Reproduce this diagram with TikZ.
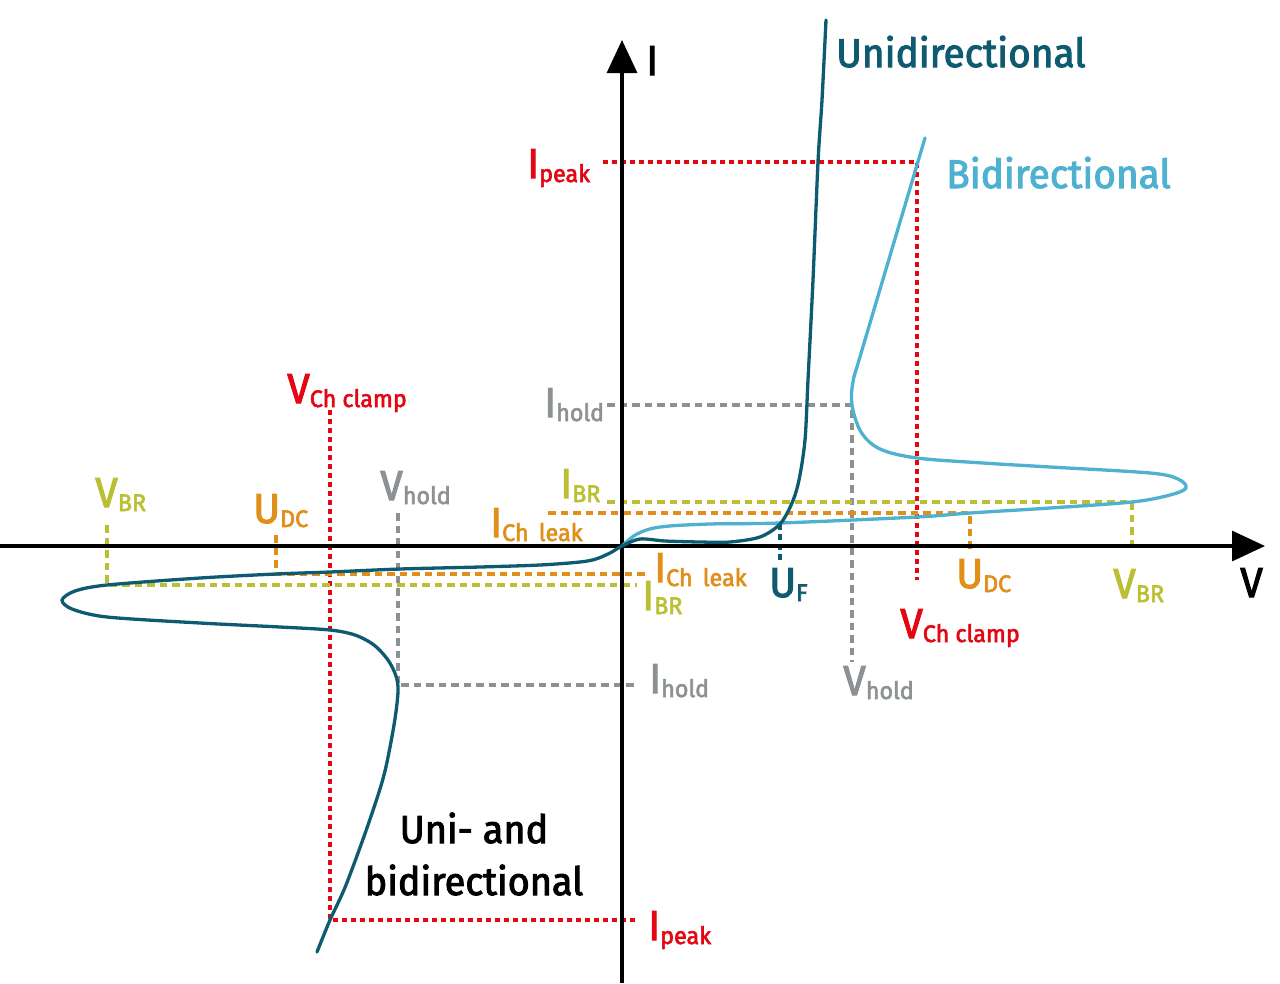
\documentclass[tikz,border=0pt]{standalone}
\usepackage{fontspec}
\setmainfont{Fira Sans}[FakeStretch=0.97,BoldFont={Fira Sans},BoldFeatures={FakeBold=2.5}]
\usetikzlibrary{arrows.meta}
\definecolor{uni}{HTML}{0E5A70}
\definecolor{bid}{HTML}{4EB1D0}
\definecolor{cred}{HTML}{E30613}
\definecolor{cgray}{HTML}{8C9194}
\definecolor{cyel}{HTML}{BBBF33}
\definecolor{corg}{HTML}{E0901A}
\newcommand\lbl[2]{#1\raisebox{-4pt}{\fontsize{24}{26}\selectfont #2}}
\begin{document}
\begin{tikzpicture}[x=1pt,y=-1pt,
  lab/.style={inner sep=0pt, anchor=base west, font=\fontsize{42}{46}\selectfont\bfseries},
  ttl/.style={inner sep=0pt, anchor=base west, font=\fontsize{40}{46}\selectfont\bfseries},
  dsh/.style={line width=3.2pt, dash pattern=on 7.5pt off 5pt},
  dotred/.style={line width=3.2pt, cred, dash pattern=on 5pt off 4pt},
  crv/.style={line width=3.3pt, line join=round, line cap=round},
  axis/.style={line width=3.2pt, -{Triangle[length=33pt,width=30pt]}}]
\useasboundingbox (0,0) rectangle (1280,983);
% ---------- coordinates ----------
\coordinate (ipkTL) at (603,162);
\coordinate (ipkTC) at (917,162);
\coordinate (ipkTB) at (917,580);
\coordinate (vclL) at (330,410);
\coordinate (vclC) at (330,920);
\coordinate (ipkBR) at (635,920);
\coordinate (ihTL) at (607,405);
\coordinate (ihTC) at (852,405);
\coordinate (ihTB) at (852,662);
\coordinate (vhL) at (398,513);
\coordinate (vhC) at (398,685);
\coordinate (ihBR) at (637,685);
\coordinate (ibrTL) at (607,502);
\coordinate (ibrTC) at (1132,502);
\coordinate (ibrTB) at (1132,545);
\coordinate (vbrL) at (107,525);
\coordinate (vbrC) at (107,585);
\coordinate (ibrBR) at (637,585);
\coordinate (iclTL) at (548,513);
\coordinate (iclTC) at (970,513);
\coordinate (iclTB) at (970,550);
\coordinate (udcL) at (276,535);
\coordinate (udcC) at (276,574);
\coordinate (iclBR) at (648,574);
\coordinate (ufT) at (780,524);
\coordinate (ufB) at (780,562);
\coordinate (o) at (622,546);
% ---------- dashed guides ----------
\draw[dotred] (ipkTL) -- (ipkTC) -- (ipkTB);
\draw[dotred] (vclL) -- (vclC) -- (ipkBR);
\draw[dsh,cgray] (ihTL) -- (ihTC) -- (ihTB);
\draw[dsh,cgray] (vhL) -- (vhC) -- (ihBR);
\draw[dsh,cyel] (ibrTL) -- (ibrTC) -- (ibrTB);
\draw[dsh,cyel] (vbrL) -- (vbrC) -- (ibrBR);
\draw[dsh,corg] (iclTL) -- (iclTC) -- (iclTB);
\draw[dsh,corg] (udcL) -- (udcC) -- (iclBR);
\draw[line width=3.2pt,uni,dash pattern=on 6pt off 4pt] (ufT) -- (ufB);
% ---------- axes ----------
\coordinate (xs) at (0,546);
\coordinate (xe) at (1265,546);
\coordinate (ys) at (622,983);
\coordinate (ye) at (622,40);
\draw[axis] (xs) -- (xe);
\draw[axis] (ys) -- (ye);
% ---------- curves ----------
\draw[crv,bid] plot[smooth,tension=0.55] coordinates {
 (622,546) (637,534) (660,527) (710,524) (780,523) (917,517) (970,513)
 (1050,508) (1132,502) (1170,495) (1186,488) (1178,479) (1150,473)
 (1050,467) (983,463) (917,458) (880,449) (861,432) (852,405) (853,382)
 (862,350) (925,138)};
\draw[crv,uni] plot[smooth,tension=0.5] coordinates {
 (826,20) (822,100) (818,162) (813,280) (808,380) (805,440) (799,480)
 (792,503) (780,524) (760,537) (730,542) (700,542) (665,541) (640,539)
 (622,546) (610,553) (596,559) (580,562) (540,565) (480,567)
 (400,569) (330,572) (276,574) (200,578) (107,585) (75,591) (62,600)
 (72,609) (107,617) (200,623) (280,627) (330,630) (355,635) (374,645)
 (388,660) (396,676) (398,692) (394,725) (384,775) (368,825) (346,885) (330,920)
 (317,952)};
% ---------- labels ----------
\node[lab] (Iax) at (646,75) {I};
\node[lab] (Vax) at (1240,597) {V};
\node[ttl,text=uni] (tuni) at (836,67) {Unidirectional};
\node[ttl,text=bid] (tbid) at (946,188) {Bidirectional};
\node[inner sep=0pt, anchor=base, font=\fontsize{39}{52}\selectfont\bfseries, align=center] (tboth) at (474,895) {Uni- and\\bidirectional};
\node[lab,text=cred] (lipkT) at (527,178) {\lbl{I}{peak}};
\node[lab,text=cred] (lipkB) at (648,940) {\lbl{I}{peak}};
\node[lab,text=cred] (lvclL) at (287,403) {\lbl{V}{Ch clamp}};
\node[lab,text=cred] (lvclR) at (900,638) {\lbl{V}{Ch clamp}};
\node[lab,text=cgray] (lihT) at (544,417) {\lbl{I}{hold}};
\node[lab,text=cgray] (lihB) at (649,693) {\lbl{I}{hold}};
\node[lab,text=cgray] (lvhL) at (380,500) {\lbl{V}{hold}};
\node[lab,text=cgray] (lvhR) at (843,695) {\lbl{V}{hold}};
\node[lab,text=cyel] (librT) at (560,498) {\lbl{I}{BR}};
\node[lab,text=cyel] (librB) at (642,610) {\lbl{I}{BR}};
\node[lab,text=cyel] (lvbrL) at (95,507) {\lbl{V}{BR}};
\node[lab,text=cyel] (lvbrR) at (1113,598) {\lbl{V}{BR}};
\node[lab,text=corg] (liclT) at (490,537) {\lbl{I}{Ch\,\ leak}};
\node[lab,text=corg] (liclB) at (654,582) {\lbl{I}{Ch\,\ leak}};
\node[lab,text=corg] (ludcL) at (253,523) {\lbl{U}{DC}};
\node[lab,text=corg] (ludcR) at (956,588) {\lbl{U}{DC}};
\node[lab,text=uni] (luf) at (769,597) {\lbl{U}{F}};
\end{tikzpicture}
\end{document}
